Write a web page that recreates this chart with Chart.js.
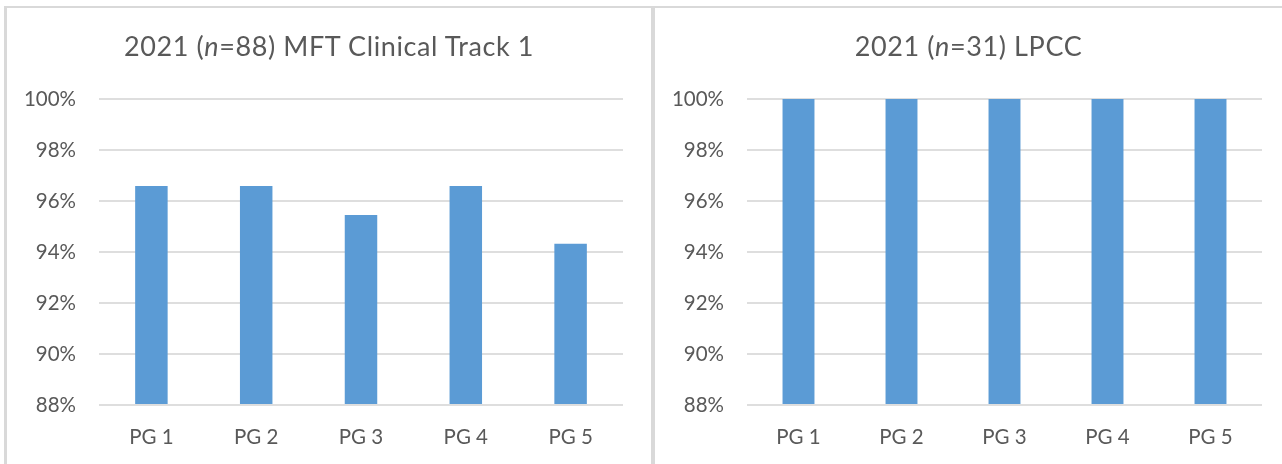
<!DOCTYPE html>
<html>
<head>
<meta charset="utf-8">
<script src="https://cdn.jsdelivr.net/npm/chart.js@4/dist/chart.umd.min.js"></script>
<style>
  html, body { margin: 0; padding: 0; background: #fff; }
  body { width: 1282px; height: 464px; position: relative; overflow: hidden; font-family: Lato, "Open Sans", sans-serif; }
  .line { position: absolute; background: #d9d9d9; }
  .panel { position: absolute; top: 8px; height: 456px; }
  .title { position: absolute; left: 0; right: 0; top: 22px; text-align: center; font-size: 27px; letter-spacing: 0.6px; line-height: 1.2; color: #595959; white-space: nowrap; }
  canvas { position: absolute; left: 0; top: 0; }
</style>
</head>
<body>
<div class="line" style="left:4px; top:6px; width:1278px; height:2px;"></div>
<div class="line" style="left:4px; top:6px; width:3px; height:458px;"></div>
<div class="line" style="left:651px; top:6px; width:4px; height:458px;"></div>

<div class="panel" id="p1" style="left:7px; width:644px;">
  <canvas id="c1" width="644" height="456"></canvas>
  <div class="title" id="t1"></div>
</div>
<div class="panel" id="p2" style="left:655px; width:627px;">
  <canvas id="c2" width="627" height="456"></canvas>
  <div class="title" id="t2"></div>
</div>

<script>
// ---- Data ----
const categories = ['PG 1', 'PG 2', 'PG 3', 'PG 4', 'PG 5'];
const mftValues = [96.59, 96.59, 95.45, 96.59, 94.32];
const lpccValues = [100, 100, 100, 100, 100];
const yMin = 88;
const yMax = 100;
const yStep = 2;
const titleYear = '2021';
const mftN = '88';
const lpccN = '31';
const mftLabel = 'MFT Clinical Track 1';
const lpccLabel = 'LPCC';

function setTitle(el, n, label) {
  el.innerHTML = '';
  el.appendChild(document.createTextNode(titleYear + ' ('));
  const i = document.createElement('i');
  i.textContent = 'n';
  el.appendChild(i);
  el.appendChild(document.createTextNode('=' + n + ') ' + label));
}
setTitle(document.getElementById('t1'), mftN, mftLabel);
setTitle(document.getElementById('t2'), lpccN, lpccLabel);

const tickFont = { family: 'Lato, "Open Sans", sans-serif', size: 20.5 };
const textColor = '#595959';

function makeChart(id, values, padRight) {
  return new Chart(document.getElementById(id), {
    type: 'bar',
    data: {
      labels: categories,
      datasets: [{
        data: values,
        backgroundColor: '#5b9bd5',
        borderWidth: 0,
        barPercentage: 0.31,
        categoryPercentage: 1.0,
        base: yMin
      }]
    },
    options: {
      responsive: false,
      animation: false,
      devicePixelRatio: 1,
      layout: { padding: { left: 0, right: padRight, top: 91, bottom: 0 } },
      plugins: { legend: { display: false }, tooltip: { enabled: false }, title: { display: false } },
      scales: {
        x: {
          grid: { display: false, drawTicks: false },
          border: { display: false },
          ticks: { color: textColor, font: tickFont, padding: 20 },
          afterFit: (s) => { s.height = 59; }
        },
        y: {
          min: yMin,
          max: yMax,
          grid: { color: '#dedede', lineWidth: 2, drawTicks: false, tickLength: 0 },
          border: { display: false },
          ticks: {
            stepSize: yStep,
            color: textColor,
            font: tickFont,
            padding: 23,
            callback: (v) => v + '%'
          },
          afterFit: (s) => { s.width = 92; }
        }
      }
    }
  });
}

makeChart('c1', mftValues, 28);
makeChart('c2', lpccValues, 20);
</script>
</body>
</html>
